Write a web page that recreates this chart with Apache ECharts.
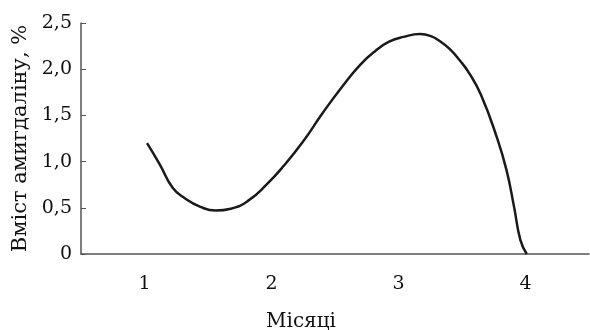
<!DOCTYPE html>
<html>
<head>
<meta charset="utf-8">
<script src="https://cdn.jsdelivr.net/npm/echarts@6/dist/echarts.min.js"></script>
<style>
  html, body { margin: 0; padding: 0; background: #fff; }
  #chart { width: 590px; height: 330px; }
</style>
</head>
<body>
<div id="chart"></div>
<script>
// місяці (підписи осі X)
var months = ['1', '2', '3', '4']
// точки кривої: x - положення по осі місяців, y - вміст амигдаліну, %
var curveX = [1.02, 1.12, 1.22, 1.32, 1.44, 1.56, 1.68, 1.82, 1.96, 2.10, 2.25, 2.40, 2.55, 2.70, 2.82, 2.93, 3.04, 3.17, 3.25, 3.33, 3.41, 3.48, 3.56, 3.65, 3.77, 3.85, 3.91, 3.96, 4.01]
var curveY = [1.20, 0.97, 0.72, 0.60, 0.51, 0.47, 0.49, 0.58, 0.75, 0.96, 1.22, 1.52, 1.80, 2.05, 2.20, 2.30, 2.35, 2.38, 2.36, 2.30, 2.21, 2.10, 1.95, 1.72, 1.28, 0.91, 0.51, 0.15, 0.0]

var font = 'DejaVu Serif'
var chart = echarts.init(document.getElementById('chart'))

var points = curveX.map(function (x, i) {
  return [x, curveY[i]]
})

chart.setOption({
  animation: false,
  grid: {
    left: 81,
    right: 1,
    top: 23,
    bottom: 76,
    outerBoundsMode: 'none'
  },
  xAxis: [
    {
      type: 'category',
      data: months,
      boundaryGap: true,
      name: 'Місяці',
      nameLocation: 'middle',
      nameGap: 58,
      nameTextStyle: {
        fontFamily: font,
        fontSize: 20,
        color: '#111',
        padding: [0, 68, 0, 0]
      },
      axisLine: { lineStyle: { color: '#555', width: 1.5 } },
      axisTick: { inside: true, length: 7, lineStyle: { color: '#555' } },
      axisLabel: { fontFamily: font, fontSize: 19, color: '#111', margin: 21 },
      splitLine: { show: false }
    },
    {
      type: 'value',
      min: 0.5,
      max: 4.5,
      show: false
    }
  ],
  yAxis: {
    type: 'value',
    min: 0,
    max: 2.5,
    interval: 0.5,
    name: 'Вміст амигдаліну, %',
    nameLocation: 'middle',
    nameGap: 50,
    nameTextStyle: { fontFamily: font, fontSize: 21, color: '#111' },
    axisLine: { show: true, lineStyle: { color: '#555', width: 1.5 } },
    axisTick: { show: true, inside: true, length: 5, lineStyle: { color: '#555' } },
    axisLabel: {
      fontFamily: font,
      fontSize: 19,
      color: '#111',
      margin: 9,
      formatter: function (value) {
        return value === 0 ? '0' : value.toFixed(1).replace('.', ',')
      }
    },
    splitLine: { show: false }
  },
  series: [
    {
      type: 'line',
      xAxisIndex: 1,
      data: points,
      smooth: 0.5,
      showSymbol: false,
      lineStyle: { color: '#1a1a1a', width: 2.5 }
    }
  ]
})
</script>
</body>
</html>
